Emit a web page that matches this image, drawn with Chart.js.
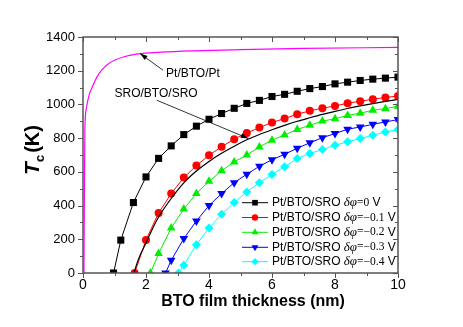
<!DOCTYPE html>
<html>
<head>
<meta charset="utf-8">
<script src="https://cdn.jsdelivr.net/npm/chart.js@4.4.0/dist/chart.umd.min.js"></script>
<style>
  html, body { margin: 0; padding: 0; background: #fff; }
  #wrap { width: 463px; height: 327px; }
</style>
</head>
<body>
<div id="wrap"><canvas id="myChart" width="463" height="327"></canvas></div>
<script>
// values
var ptX = [0.03, 0.045, 0.06, 0.1, 0.2, 0.3, 0.45, 0.6, 0.8, 1.0, 1.3, 1.7, 2.5, 3.5, 5, 7, 10]
var ptY = [0, 500, 850, 970, 1060, 1105, 1165, 1205, 1240, 1262, 1283, 1298, 1310, 1318, 1325, 1332, 1338]

var sroX = [1.62, 1.7, 1.8, 1.9, 2.0, 2.2, 2.4, 2.8, 3.2, 3.6, 4.0, 4.4, 4.8, 5.2, 5.6, 6.0, 6.4, 6.8, 7.2, 7.6, 8.0, 8.4, 8.8, 9.2, 9.6, 10]
var sroY = [0, 50, 100, 140, 178, 260, 332, 442, 535, 605, 662, 710, 752, 790, 822, 850, 876, 900, 921, 941, 959, 976, 991, 1005, 1018, 1030]

var dphi0X = [0.97, 1.2, 1.6, 2.0, 2.4, 2.8, 3.2, 3.6, 4.0, 4.4, 4.8, 5.2, 5.6, 6.0, 6.4, 6.8, 7.2, 7.6, 8.0, 8.4, 8.8, 9.2, 9.6, 10]
var dphi0Y = [0, 195, 418, 570, 680, 754, 821, 871, 912, 946, 977, 1006, 1024, 1047, 1060, 1078, 1094, 1106, 1122, 1132, 1142, 1150, 1156, 1162]

var dphi1X = [1.64, 2.0, 2.4, 2.8, 3.2, 3.6, 4.0, 4.4, 4.8, 5.2, 5.6, 6.0, 6.4, 6.8, 7.2, 7.6, 8.0, 8.4, 8.8, 9.2, 9.6, 10]
var dphi1Y = [0, 196, 356, 471, 566, 637, 698, 749, 794, 830, 863, 893, 916, 942, 962, 978, 991, 1007, 1019, 1031, 1041, 1050]

var dphi2X = [2.14, 2.4, 2.8, 3.2, 3.6, 4.0, 4.4, 4.8, 5.2, 5.6, 6.0, 6.4, 6.8, 7.2, 7.6, 8.0, 8.4, 8.8, 9.2, 9.6, 10]
var dphi2Y = [0, 115, 267, 380, 471, 544, 606, 659, 700, 748, 788, 819, 851, 877, 901, 915, 935, 948, 965, 975, 989]

var dphi3X = [2.62, 2.8, 3.2, 3.6, 4.0, 4.4, 4.8, 5.2, 5.6, 6.0, 6.4, 6.8, 7.2, 7.6, 8.0, 8.4, 8.8, 9.2, 9.6, 10]
var dphi3Y = [0, 75, 204, 309, 400, 471, 536, 586, 633, 672, 704, 740, 772, 803, 827, 853, 866, 882, 896, 910]

var dphi4X = [3.03, 3.2, 3.6, 4.0, 4.4, 4.8, 5.2, 5.6, 6.0, 6.4, 6.8, 7.2, 7.6, 8.0, 8.4, 8.8, 9.2, 9.6, 10]
var dphi4Y = [0, 46, 168, 267, 348, 418, 481, 536, 585, 630, 679, 709, 732, 758, 778, 798, 817, 837, 851]

var legendNames = ["0", "\u22120.1", "\u22120.2", "\u22120.3", "\u22120.4"]

function pts(xs, ys) {
    var out = []
    for (let i = 0; i < xs.length; i++) out.push({x: xs[i], y: ys[i]})
    return out
}

function series(xs, ys, color, style, radius, rotation) {
    return {
        data: pts(xs, ys),
        showLine: true,
        borderColor: color,
        backgroundColor: color,
        borderWidth: 1,
        pointStyle: style,
        pointRadius: radius,
        pointRotation: rotation || 0,
        pointBorderWidth: 0,
        pointBackgroundColor: color,
        pointBorderColor: color
    }
}

var datasets = [
    {data: pts(ptX, ptY), showLine: true, borderColor: "#ff00ff", borderWidth: 1.2,
     pointRadius: 0, cubicInterpolationMode: "monotone"},
    {data: pts(sroX, sroY), showLine: true, borderColor: "#000", borderWidth: 1.2,
     pointRadius: 0, cubicInterpolationMode: "monotone"},
    series(dphi0X, dphi0Y, "#000000", "rect", 5),
    series(dphi1X, dphi1Y, "#ff0000", "circle", 4),
    series(dphi2X, dphi2Y, "#00ee00", "triangle", 5),
    series(dphi3X, dphi3Y, "#0000ff", "triangle", 5, 180),
    series(dphi4X, dphi4Y, "#00ffff", "rectRot", 4.5)
]

var framePlugin = {
    id: "frame",
    afterDraw: function (chart) {
        var ctx = chart.ctx
        var a = chart.chartArea
        var xs = chart.scales.x, ys = chart.scales.y
        ctx.save()
        ctx.strokeStyle = "#555"
        ctx.lineWidth = 1.5
        ctx.strokeRect(a.left, a.top, a.right - a.left, a.bottom - a.top)
        ctx.lineWidth = 1
        ctx.beginPath()
        for (let v = 0; v <= 10; v++) {
            var px = Math.round(xs.getPixelForValue(v)) + 0.5
            var len = v % 2 == 0 ? 5 : 3
            ctx.moveTo(px, a.bottom); ctx.lineTo(px, a.bottom + len)
            ctx.moveTo(px, a.top); ctx.lineTo(px, a.top + len)
        }
        for (let v = 0; v <= 1400; v += 100) {
            var py = Math.round(ys.getPixelForValue(v)) + 0.5
            var len2 = v % 200 == 0 ? 5 : 3
            ctx.moveTo(a.left, py); ctx.lineTo(a.left - len2, py)
            ctx.moveTo(a.right, py); ctx.lineTo(a.right - len2, py)
        }
        ctx.stroke()

        // annotations
        function arrow(x0, y0, x1, y1) {
            var p0x = xs.getPixelForValue(x0), p0y = ys.getPixelForValue(y0)
            var p1x = xs.getPixelForValue(x1), p1y = ys.getPixelForValue(y1)
            ctx.strokeStyle = "#000"
            ctx.lineWidth = 0.8
            ctx.beginPath(); ctx.moveTo(p0x, p0y); ctx.lineTo(p1x, p1y); ctx.stroke()
            var ang = Math.atan2(p1y - p0y, p1x - p0x)
            ctx.fillStyle = "#000"
            ctx.beginPath()
            ctx.moveTo(p1x, p1y)
            ctx.lineTo(p1x - 8 * Math.cos(ang - 0.3), p1y - 8 * Math.sin(ang - 0.3))
            ctx.lineTo(p1x - 8 * Math.cos(ang + 0.3), p1y - 8 * Math.sin(ang + 0.3))
            ctx.closePath(); ctx.fill()
        }
        arrow(2.54, 1203, 1.81, 1302)
        arrow(2.34, 1025, 5.25, 798)
        ctx.fillStyle = "#000"
        ctx.font = "12px 'Liberation Sans', Arial, sans-serif"
        ctx.textAlign = "center"
        ctx.textBaseline = "middle"
        ctx.fillText("Pt/BTO/Pt", xs.getPixelForValue(3.49), ys.getPixelForValue(1185))
        ctx.fillText("SRO/BTO/SRO", xs.getPixelForValue(2.32), ys.getPixelForValue(1062))

        // legend
        ctx.textAlign = "left"
        var rowY = [202.7, 217.5, 232.3, 247.3, 261.7]
        for (let i = 0; i < 5; i++) {
            var ds = chart.data.datasets[i + 2]
            var y = rowY[i]
            ctx.strokeStyle = ds.borderColor
            ctx.lineWidth = 1
            ctx.beginPath(); ctx.moveTo(242, y); ctx.lineTo(268, y); ctx.stroke()
            ctx.fillStyle = ds.borderColor
            Chart.helpers.drawPoint(ctx, {pointStyle: ds.pointStyle, radius: ds.pointRadius * 0.8,
                rotation: ds.pointRotation, borderWidth: 0}, 255, y)
            ctx.fillStyle = "#000"
            var x = 272
            ctx.font = "12px 'Liberation Sans', Arial, sans-serif"
            ctx.fillText("Pt/BTO/SRO ", x, y)
            x += ctx.measureText("Pt/BTO/SRO ").width
            ctx.font = "italic 13px 'Liberation Serif', 'Times New Roman', serif"
            ctx.fillText("\u03b4\u03c6", x, y)
            x += ctx.measureText("\u03b4\u03c6").width
            ctx.font = "11.5px 'Liberation Serif', 'Times New Roman', serif"
            ctx.fillText("=" + legendNames[i], x, y)
            x += ctx.measureText("=" + legendNames[i]).width
            ctx.font = "12px 'Liberation Sans', Arial, sans-serif"
            ctx.fillText(" V", x, y)
        }

        // axis titles
        ctx.font = "bold 16px 'Liberation Sans', Arial, sans-serif"
        ctx.textAlign = "center"
        ctx.fillText("BTO film thickness (nm)", 253, 302)

        ctx.translate(33, 150)
        ctx.rotate(-Math.PI / 2)
        ctx.textAlign = "left"
        var w1, w2, w3
        ctx.font = "italic bold 21px 'Liberation Sans', Arial, sans-serif"
        w1 = ctx.measureText("T").width
        ctx.font = "bold 13px 'Liberation Sans', Arial, sans-serif"
        w2 = ctx.measureText("c").width
        ctx.font = "bold 20px 'Liberation Sans', Arial, sans-serif"
        w3 = ctx.measureText("(K)").width
        var sx = -(w1 + w2 + w3 + 2) / 2
        ctx.font = "italic bold 21px 'Liberation Sans', Arial, sans-serif"
        ctx.fillText("T", sx, 0)
        ctx.font = "bold 13px 'Liberation Sans', Arial, sans-serif"
        ctx.fillText("c", sx + w1, 7)
        ctx.font = "bold 20px 'Liberation Sans', Arial, sans-serif"
        ctx.fillText("(K)", sx + w1 + w2 + 2, 0)
        ctx.restore()
    }
}

var ctx = document.getElementById("myChart")
var myChart = new Chart(ctx, {
    type: "scatter",
    data: {datasets: datasets},
    options: {
        responsive: false,
        animation: false,
        layout: {padding: {top: 37, right: 65, left: 0, bottom: 0}},
        plugins: {legend: {display: false}, tooltip: {enabled: false}},
        scales: {
            x: {
                type: "linear", min: 0, max: 10,
                grid: {display: false, drawTicks: false, tickLength: 0}, border: {display: false},
                ticks: {stepSize: 2, padding: 4, color: "#000",
                        font: {size: 14, family: "'Liberation Sans', Arial, sans-serif"},
                        callback: function (v) { return String(v) }},
                afterFit: function (s) { s.height = 54 }
            },
            y: {
                type: "linear", min: 0, max: 1400,
                grid: {display: false, drawTicks: false, tickLength: 0}, border: {display: false},
                ticks: {stepSize: 200, padding: 8, color: "#000",
                        font: {size: 13, family: "'Liberation Sans', Arial, sans-serif"},
                        callback: function (v) { return String(v) }},
                afterFit: function (s) { s.width = 83 }
            }
        }
    },
    plugins: [framePlugin]
})
</script>
</body>
</html>
